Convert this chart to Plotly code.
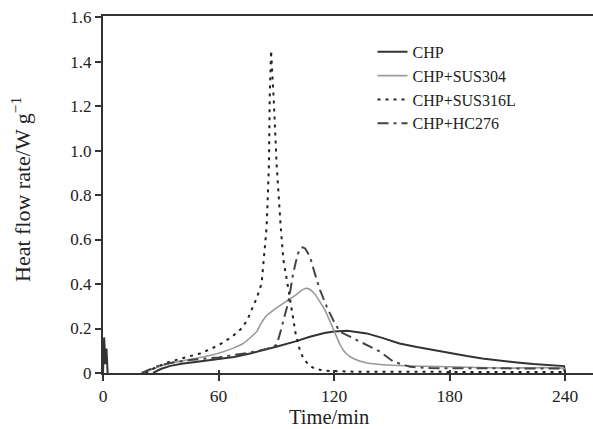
import plotly.graph_objects as go

# ---- data ----
chp_t = [0, 0.6, 1.2, 1.8, 2.4, None, 26, 30, 35, 41.7, 50, 59, 68, 76.4, 83, 90, 100, 107.5, 115, 120, 127,
         137, 145, 154, 163, 171.5, 180, 189, 197, 206, 215, 223.5, 232, 239.5, 240]
chp_v = [0, 0.16, 0.04, 0.11, 0, None, 0, 0.018, 0.032, 0.043, 0.052, 0.061, 0.072, 0.088, 0.102, 0.118, 0.142,
         0.163, 0.18, 0.187, 0.19, 0.178, 0.158, 0.133, 0.117, 0.103, 0.089, 0.076, 0.065, 0.055, 0.047,
         0.04, 0.035, 0.031, 0]

sus304_t = [22, 24.4, 28, 34.8, 42, 50.4, 56, 62.5, 68, 72.9, 76, 79.8, 82, 85, 89.4, 93, 96.3, 100, 103, 105,
            107, 110, 113, 115.3, 118, 120, 123, 126, 130, 137, 150, 180, 210, 239.5, 240]
sus304_v = [0, 0.013, 0.025, 0.044, 0.056, 0.07, 0.08, 0.096, 0.113, 0.133, 0.155, 0.186, 0.222, 0.258, 0.288,
            0.31, 0.328, 0.35, 0.37, 0.38, 0.378, 0.355, 0.315, 0.283, 0.23, 0.19, 0.13, 0.09, 0.065, 0.045,
            0.035, 0.028, 0.022, 0.02, 0]

sus316l_t = [22, 25, 27.9, 34.8, 42, 50.4, 56, 61.6, 67, 72, 75, 78, 80, 82.4, 83.6, 85, 86.2, 86.4, 86.6, 87.3,
             88.0, 88.6, 89.4, 90.2, 92.3, 93.7, 96.3, 97.7, 100, 102, 104, 107, 110, 115, 130, 180, 239.5, 240]
sus316l_v = [0, 0.015, 0.028, 0.051, 0.068, 0.088, 0.108, 0.133, 0.163, 0.2, 0.24, 0.3, 0.34, 0.404, 0.508,
             0.657, 0.94, 1.09, 1.24, 1.45, 1.35, 1.24, 1.09, 0.935, 0.657, 0.508, 0.377, 0.3, 0.18, 0.11,
             0.066, 0.035, 0.02, 0.01, 0.006, 0.005, 0.005, 0]

hc276_t = [20, 23, 28, 35, 45, 60, 75, 85, 90.2, 92, 93.7, 96.3, 98.8, 101, 102.3, 103.7, 105, 107.5, 110,
           112.7, 116.2, 120, 123, 131.8, 143.9, 150.8, 159.5, 170, 200, 239.5, 240]
hc276_v = [0, 0.012, 0.03, 0.045, 0.058, 0.07, 0.09, 0.108, 0.126, 0.18, 0.238, 0.32, 0.448, 0.53, 0.56, 0.565,
           0.56, 0.523, 0.448, 0.373, 0.298, 0.23, 0.186, 0.148, 0.096, 0.051, 0.028, 0.022, 0.02, 0.02, 0]

x_ticks = [0, 60, 120, 180, 240]
y_ticks = [0, 0.2, 0.4, 0.6, 0.8, 1.0, 1.2, 1.4, 1.6]
y_tick_text = ["0", "0.2", "0.4", "0.6", "0.8", "1.0", "1.2", "1.4", "1.6"]

FONT = "Liberation Serif"
TXT = "#222222"

fig = go.Figure()
fig.add_trace(go.Scatter(x=chp_t, y=chp_v, mode="lines", name="CHP",
                         line=dict(color="#333333", width=2)))
fig.add_trace(go.Scatter(x=sus304_t, y=sus304_v, mode="lines", name="CHP+SUS304",
                         line=dict(color="#9a9a9a", width=1.6, shape="spline", smoothing=0.5)))
fig.add_trace(go.Scatter(x=sus316l_t, y=sus316l_v, mode="lines", name="CHP+SUS316L",
                         line=dict(color="#222222", width=2, dash="3px,5px")))
fig.add_trace(go.Scatter(x=hc276_t, y=hc276_v, mode="lines", name="CHP+HC276",
                         line=dict(color="#444444", width=2, dash="11px,5px,3px,5px")))
# helper trace so the overlay axis (inner tick halves) is drawn
fig.add_trace(go.Scatter(x=[0], y=[0], xaxis="x2", mode="lines", showlegend=False,
                         hoverinfo="skip", line=dict(color="rgba(0,0,0,0)")))

fig.update_layout(
    template="none",
    width=593, height=429,
    margin=dict(l=103, r=0, t=16, b=56, autoexpand=False),
    paper_bgcolor="white", plot_bgcolor="white",
    font=dict(family=FONT, color=TXT, size=18),
    showlegend=True,
    legend=dict(x=0.55, y=0.947, xanchor="left", yanchor="top",
                font=dict(family=FONT, size=16, color=TXT),
                bgcolor="rgba(0,0,0,0)", borderwidth=0),
    xaxis=dict(range=[0, 254.5], tickvals=x_ticks, ticktext=[str(v) for v in x_ticks], automargin=False,
               showgrid=False, zeroline=False, showline=True, linecolor="#333333", linewidth=2,
               mirror=True, ticks="outside", ticklen=6, tickwidth=1.5, tickcolor="#333333",
               tickfont=dict(family=FONT, size=17.5, color=TXT)),
    xaxis2=dict(range=[0, 254.5], overlaying="x", anchor="y", side="bottom", tickvals=x_ticks,
                automargin=False, showticklabels=False, showgrid=False, zeroline=False, showline=False,
                ticks="inside", ticklen=3, tickwidth=1.5, tickcolor="#333333"),
    yaxis=dict(range=[0, 1.605], tickvals=y_ticks, ticktext=y_tick_text, automargin=False,
               showgrid=False, zeroline=False, showline=True, linecolor="#333333", linewidth=2,
               ticks="outside", ticklen=6, tickwidth=1.5, tickcolor="#333333",
               tickfont=dict(family=FONT, size=17, color=TXT)),
    annotations=[
        dict(text="Time/min", xref="paper", yref="paper", x=(329 - 103) / 490, y=(373 - 416.5) / 357,
             xanchor="center", yanchor="middle", showarrow=False,
             font=dict(family=FONT, size=20.5, color=TXT)),
        dict(text="Heat flow rate/W g<sup>\u22121</sup>", xref="paper", yref="paper",
             x=(21 - 103) / 490, y=(373 - 190) / 357, textangle=-90,
             xanchor="center", yanchor="middle", showarrow=False,
             font=dict(family=FONT, size=22, color=TXT)),
    ],
)

fig.write_html("out.html", config={"displayModeBar": False},
               post_script="document.body.style.margin='0';document.body.style.padding='0';")
